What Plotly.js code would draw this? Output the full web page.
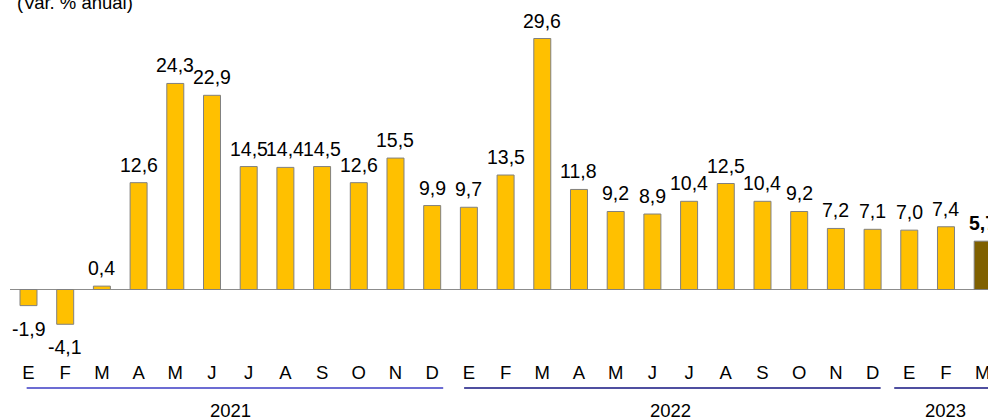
<!DOCTYPE html>
<html>
<head>
<meta charset="utf-8">
<script src="https://cdn.plot.ly/plotly-3.0.1.min.js"></script>
<style>html,body{margin:0;padding:0;overflow:hidden;background:#fff}</style>
</head>
<body>
<div id="chart" style="width:988px;height:419px"></div>
<script>
const months = ['E','F','M','A','M','J','J','A','S','O','N','D','E','F','M','A','M','J','J','A','S','O','N','D','E','F','M'];
const values = [-1.9,-4.1,0.4,12.6,24.3,22.9,14.5,14.4,14.5,12.6,15.5,9.9,9.7,13.5,29.6,11.8,9.2,8.9,10.4,12.5,10.4,9.2,7.2,7.1,7.0,7.4,5.7];
const years = ['2021','2022','2023'];
const yearFirst = [0,12,24];
const yearLast = [11,23,26];

const idx = values.map((v,i)=>i);
const lastI = values.length-1;
const labels = values.map((v,i)=>{
  const s = v.toFixed(1).replace('.',',');
  return i===lastI ? '<b>'+s+'</b>' : s;
});
const colors = values.map((v,i)=> i===lastI ? '#7f6000' : '#ffc000');

const FONT = 'Liberation Sans, Arial, sans-serif';

const trace = {
  type:'bar', x: idx, y: values, width: 0.463,
  marker:{color: colors, line:{color:'#808080', width:1}},
  cliponaxis:false, hoverinfo:'none'
};

const annotations = [{
  xref:'paper', yref:'paper', x:0, y:1, xanchor:'left', yanchor:'middle',
  xshift:5, yshift:-2, showarrow:false, text:'(Var. % anual)',
  font:{family:FONT, size:18.5, color:'#000'}
}];
values.forEach((v,i)=>{
  const pos = v >= 0;
  annotations.push({
    xref:'x', yref:'y', x:i, y:v, showarrow:false, text:labels[i],
    xanchor:'center', yanchor: pos ? 'bottom' : 'top', yshift: pos ? 5 : -10,
    font:{family:FONT, size:19.5, color:'#000'}
  });
});
const shapes = [];
const lineColors = ['#3b3bc4','#141480','#141480'];
const lineStart = [-0.05, 11.87, 23.59];
const lineEnd = [11.3, 23.22, 27];
years.forEach((yr,k)=>{
  annotations.push({
    xref:'x', yref:'paper', x:(yearFirst[k]+yearLast[k])/2, y:-(410-350)/350,
    xanchor:'center', yanchor:'middle', showarrow:false, text:yr,
    font:{family:FONT, size:18.5, color:'#000'}
  });
  shapes.push({type:'line', xref:'x', yref:'paper', x0:lineStart[k], x1:lineEnd[k],
    y0:-(388-350)/350, y1:-(388-350)/350, line:{color:lineColors[k], width:1.3}});
});

const layout = {
  width:988, height:419,
  margin:{l:10, r:0, t:0, b:69, pad:0},
  paper_bgcolor:'#fff', plot_bgcolor:'rgba(0,0,0,0)',
  separators:',.',
  showlegend:false,
  bargap:0.5,
  xaxis:{range:[-0.504, 26.145], tickvals: idx, ticktext: months, ticks:'', showgrid:false,
    zeroline:false, showline:false, ticklabelstandoff:9, ticklabeloverflow:'allow',
    tickfont:{family:FONT, size:18.5, color:'#000'}, fixedrange:true},
  yaxis:{range:[-7.134, 34.14], showgrid:false, showticklabels:false, ticks:'',
    zeroline:true, zerolinecolor:'#8c8c8c', zerolinewidth:1.2, showline:false, fixedrange:true},
  annotations: annotations,
  shapes: shapes,
  font:{family:FONT}
};

Plotly.newPlot('chart', [trace], layout, {staticPlot:true, displayModeBar:false});
</script>
</body>
</html>
